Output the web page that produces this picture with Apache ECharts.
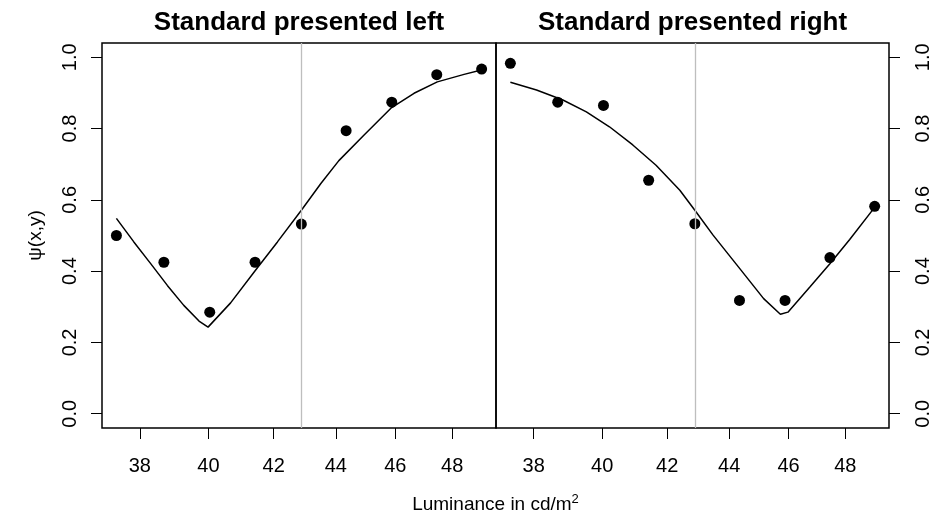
<!DOCTYPE html>
<html>
<head>
<meta charset="utf-8">
<script src="https://cdn.jsdelivr.net/npm/echarts@6/dist/echarts.min.js"></script>
<style>
  html, body { margin: 0; padding: 0; background: #fff; }
  #chart { width: 942px; height: 522px; }
</style>
</head>
<body>
<div id="chart"></div>
<script>
// Luminance levels of the comparison stimulus (cd/m^2)
const luminance = [37.34, 38.69, 40.04, 41.42, 42.88, 44.34, 45.88, 47.45, 49.07];
// Observed proportions, standard presented on the left / on the right
const propLeft  = [0.500, 0.425, 0.285, 0.425, 0.532, 0.794, 0.874, 0.951, 0.967];
const propRight = [0.983, 0.874, 0.865, 0.655, 0.533, 0.318, 0.318, 0.438, 0.582];

// Fitted model curves
const fitLeftX  = [37.34, 37.83, 38.31, 38.79, 39.27, 39.72, 39.99, 40.67, 41.44, 42.12, 42.88, 43.51, 44.10, 44.94, 45.85, 46.65, 47.47, 48.43, 49.06];
const fitLeftY  = [0.548, 0.482, 0.421, 0.360, 0.304, 0.260, 0.243, 0.311, 0.403, 0.482, 0.571, 0.646, 0.710, 0.782, 0.857, 0.899, 0.931, 0.952, 0.964];
const fitRightX = [37.34, 38.08, 38.84, 39.53, 40.22, 40.93, 41.65, 42.40, 42.88, 43.47, 44.35, 45.15, 45.72, 45.98, 46.75, 47.45, 48.16, 49.04];
const fitRightY = [0.930, 0.908, 0.880, 0.847, 0.805, 0.754, 0.697, 0.627, 0.571, 0.501, 0.407, 0.323, 0.279, 0.285, 0.356, 0.421, 0.489, 0.576];

// Luminance of the standard stimulus
const standardLum = 42.88;

// Axis ranges and tick labels
const xRange = [36.94, 49.6];
const yRange = [-0.04, 1.04];
const xTicks = [38, 40, 42, 44, 46, 48];
const yTicks = [0, 0.2, 0.4, 0.6, 0.8, 1.0];

const panelTitles = ['Standard presented left', 'Standard presented right'];

const font = '"Liberation Sans", Arial, Helvetica, sans-serif';
const zip = (xs, ys) => xs.map((x, i) => [x, ys[i]]);

const chart = echarts.init(document.getElementById('chart'), null, { renderer: 'canvas' });

const grids = [
  { left: 102, top: 43, width: 394, height: 385 },
  { left: 496, top: 43, width: 393, height: 385 }
].map(g => Object.assign(g, {
  show: true, borderColor: '#000', borderWidth: 1.5, backgroundColor: 'transparent', containLabel: false
}));

function makeXAxis(i) {
  return {
    type: 'log', logBase: 10, gridIndex: i, position: 'bottom', min: xRange[0], max: xRange[1],
    axisLine: { show: false, onZero: false },
    splitLine: { show: false },
    minorTick: { show: false },
    axisTick: { show: true, inside: false, length: 11, customValues: xTicks,
                lineStyle: { color: '#000', width: 1 } },
    axisLabel: { show: true, customValues: xTicks, margin: 28, fontSize: 20,
                 color: '#000', fontFamily: font, formatter: v => String(Math.round(v)) }
  };
}

function makeYAxis(i, pos, margin) {
  return {
    type: 'value', gridIndex: i, position: pos, min: yRange[0], max: yRange[1],
    axisLine: { show: false, onZero: false },
    splitLine: { show: false },
    axisTick: { show: true, inside: false, length: 11, customValues: yTicks,
                lineStyle: { color: '#000', width: 1 } },
    axisLabel: { show: true, customValues: yTicks, rotate: 90, margin: margin, fontSize: 20,
                 color: '#000', fontFamily: font, formatter: v => v.toFixed(1) }
  };
}

function panelSeries(i, props, fx, fy) {
  return [
    {
      type: 'line', xAxisIndex: i, yAxisIndex: i, data: [], z: 1, silent: true,
      markLine: {
        silent: true, symbol: ['none', 'none'], animation: false,
        label: { show: false },
        lineStyle: { color: '#bebebe', width: 1.3, type: 'solid' },
        data: [{ xAxis: standardLum }]
      }
    },
    {
      type: 'line', xAxisIndex: i, yAxisIndex: i, data: zip(fx, fy), z: 3,
      showSymbol: false, symbol: 'none', smooth: false,
      lineStyle: { color: '#000', width: 1.5 }
    },
    {
      type: 'scatter', xAxisIndex: i, yAxisIndex: i, data: zip(luminance, props), z: 4,
      symbol: 'circle', symbolSize: 11, itemStyle: { color: '#000', opacity: 1 }
    }
  ];
}

const option = {
  animation: false,
  backgroundColor: '#fff',
  grid: grids,
  xAxis: [makeXAxis(0), makeXAxis(1)],
  yAxis: [makeYAxis(0, 'left', 22), makeYAxis(1, 'right', 24)],
  series: [].concat(
    panelSeries(0, propLeft, fitLeftX, fitLeftY),
    panelSeries(1, propRight, fitRightX, fitRightY)
  ),
  graphic: [
    { type: 'text', x: 299, y: 23, style: { text: panelTitles[0], font: 'bold 26px ' + font,
      fill: '#000', textAlign: 'center', textVerticalAlign: 'middle' } },
    { type: 'text', x: 692.5, y: 23, style: { text: panelTitles[1], font: 'bold 26px ' + font,
      fill: '#000', textAlign: 'center', textVerticalAlign: 'middle' } },
    { type: 'text', x: 36, y: 235.5, rotation: Math.PI / 2,
      style: { text: 'ψ(x,y)', font: '19px ' + font, fill: '#000',
               textAlign: 'center', textVerticalAlign: 'middle' } },
    { type: 'text', x: 495.5, y: 505,
      style: {
        text: '{a|Luminance in cd/m}{b|2}', textAlign: 'center', textVerticalAlign: 'middle',
        rich: {
          a: { font: '19px ' + font, fill: '#000' },
          b: { font: '13px ' + font, fill: '#000', verticalAlign: 'top', padding: [0, 0, 12, 0] }
        }
      } }
  ]
};

chart.setOption(option);
</script>
</body>
</html>
